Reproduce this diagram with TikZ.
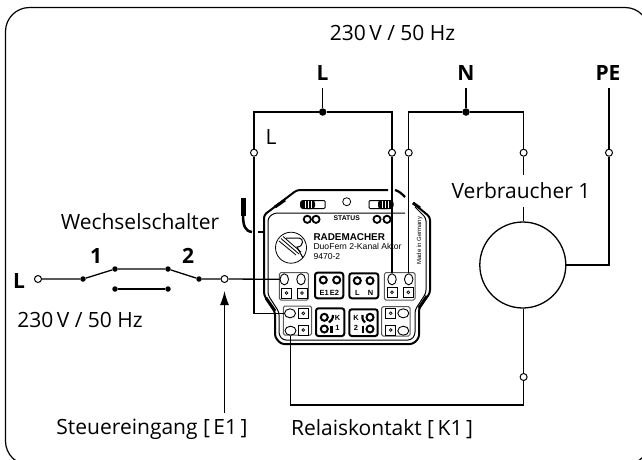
\documentclass[tikz,border=0pt]{standalone}
\usepackage{fontspec}
\setmainfont{Open Sans}
\newfontfamily\devfont{Liberation Sans}
\usetikzlibrary{arrows.meta,shapes.geometric}
\tikzset{
  wire/.style={line width=1.3pt,draw=black},
  opencirc/.style={circle,draw=black,fill=white,line width=1pt,inner sep=0pt,minimum size=7pt},
  dotnode/.style={circle,fill=black,inner sep=0pt,minimum size=#1},
  lab/.style={font=\fontsize{21}{24}\selectfont,inner sep=0pt,text=black},
  blab/.style={font=\fontsize{21}{24}\selectfont\bfseries,inner sep=0pt},
  graybox/.style={draw=black!65,line width=1pt,rounded corners=1.5pt,fill=white},
  blackbox/.style={draw=black,line width=2pt,rounded corners=2.5pt,fill=white},
  termring/.style={circle,draw=black,line width=2pt,fill=white,inner sep=0pt,minimum size=#1},
  sqt/.style={draw=black,line width=1pt,fill=white,inner sep=0pt,minimum size=10pt},
  devtxt/.style={font=\devfont\bfseries\fontsize{#1}{#1}\selectfont,inner sep=0pt},
  casing/.style={line width=2pt,draw=black,line join=round},
  casingthin/.style={line width=1pt,draw=black,line join=round},
  ovalv/.style={ellipse,draw=black,fill=white,line width=.9pt,inner sep=0pt,minimum width=8.5pt,minimum height=11pt},
  ovalh/.style={ellipse,draw=black,fill=white,line width=.9pt,inner sep=0pt,minimum width=11pt,minimum height=9pt},
}
\newcommand{\sqterm}[2]{\node[sqt] at (#1,#2) {}; \draw[line width=.7pt] (#1,#2) circle (1.4);}
\begin{document}
\begin{tikzpicture}[x=1pt,y=-1pt]
\useasboundingbox (0,0) rectangle (642,459);
\fill[white] (0,0) rectangle (642,459);
\begin{scope}
\clip (0,0) rectangle (642,459);
\draw[line width=1.2pt,rounded corners=24pt] (5.5,7.5) rectangle (649,465);
\end{scope}
% device casing
\draw[casing,rounded corners=3pt] (388,190) -- (297,190) -- (264,215) -- (264,295) -- (275,312) -- (275,337) -- (281,344) -- (413,344) -- (419,338) -- (419,308) -- (430,293) -- (430,217) -- (413,203);
\draw[casingthin,rounded corners=3pt] (405,213) -- (274,213) -- (268,218) -- (268,295) -- (279,312) -- (279,335) -- (283,340) -- (411,340) -- (415,335) -- (415,310) -- (426,293) -- (426,218) -- (415,207);
\draw[line width=3pt] (275,207) -- (285,200);
\draw[line width=3pt] (266,298) -- (275,311);
\draw[line width=3pt] (419,308) -- (427,296);
\draw[line width=2.2pt] (395,190) .. controls (399,191) and (402,194) .. (405,197);
\draw[line width=3pt] (413,203) -- (420,208);
% sliders
\draw[line width=1pt,fill=white,rounded corners=1pt] (306,200.5) rectangle (325,208.5);
\fill[black,rounded corners=3pt] (300,200) rectangle (315,209);
\foreach \q in {305,308,311}{\draw[white,line width=.5pt] (\q,201) -- (\q,208);}
\draw[line width=1pt,fill=white,rounded corners=1pt] (369,200.5) rectangle (388,208.5);
\fill[black,rounded corners=3pt] (378,200) rectangle (393.5,209);
\foreach \q in {382,385,388}{\draw[white,line width=.5pt] (\q,201) -- (\q,208);}
\node[circle,draw=black,line width=.8pt,inner sep=0pt,minimum size=8pt] (statusled) at (346.7,201.7) {};
\foreach \q in {307.3,316,377,387}{\draw[line width=1.8pt] (\q,219.3) circle (3.6);}
\node[devtxt=6.8] (status) at (346.7,218.3) {STATUS};
\node[devtxt=9.9,anchor=west] (brand) at (313.3,236.7) {RADEMACHER};
\node[font=\devfont\fontsize{8.6}{9}\selectfont,inner sep=0pt,anchor=west] (model) at (313.3,246.7) {DuoFern 2-Kanal Aktor};
\node[font=\devfont\fontsize{8.6}{9}\selectfont,inner sep=0pt,anchor=west] (num) at (313.3,256.7) {9470-2};
\node[font=\devfont\fontsize{6}{6}\selectfont,inner sep=0pt,rotate=90] (made) at (419.5,240.5) {Made in Germany};
% logo
\draw[line width=.8pt] (291,247.7) circle (15.5);
\draw[line width=.8pt] (279,241) -- (296,255) (281,238.5) -- (299,254) (283,236.5) -- (301,252);
\draw[line width=1pt] (286,238) -- (299,238) .. controls (304,238) and (304,247) .. (297,247) -- (303,258);
% stub at left
\draw[line width=5pt] (243,198) -- (243,216);
\draw[line width=2.5pt] (243,214) .. controls (243,226) and (245,231) .. (252,232);
\draw[line width=2.5pt] (258,232) -- (265,232);
% terminal blocks
\draw[graybox] (279.3,272.7) rectangle (308.3,300);
\draw[graybox] (384.3,272.7) rectangle (415,300);
\draw[graybox] (283.3,306) rectangle (311.7,335);
\draw[graybox] (381.7,306.7) rectangle (410,336);
\draw[blackbox] (315,272.7) rectangle (343.3,298.3);
\draw[blackbox] (349.3,273.3) rectangle (378.3,298.3);
\draw[blackbox] (316,308.3) rectangle (344.3,336);
\draw[blackbox] (349.3,309.3) rectangle (377.7,336);
\sqterm{286.5}{293}\sqterm{302}{293}
\sqterm{392}{292.3}\sqterm{408.3}{292.3}
\sqterm{303.3}{313.3}\sqterm{303.3}{330}
\sqterm{390.7}{313.3}\sqterm{390.7}{330}
% E1 E2 / L N
\node[termring=7pt] (e1r) at (323.3,280) {};
\node[termring=7pt] (e2r) at (336.7,280) {};
\node[devtxt=7.5] (e1t) at (329.3,292.5) {E1\,E2};
\node[termring=7pt] (lr) at (357.3,280.7) {};
\node[termring=7pt] (nr) at (370,280.7) {};
\node[devtxt=7.5] (lt) at (357.3,292.5) {L};
\node[devtxt=7.5] (nt) at (370.5,292.5) {N};
% K1 / K2
\node[termring=7pt] (k1a) at (324.3,317.3) {};
\node[termring=7pt] (k1b) at (324.3,329) {};
\draw[line width=2.2pt] (333,315) .. controls (333,319) and (331,321) .. (329,322.5);
\draw[line width=2.2pt] (331.5,326) -- (331.5,333);
\node[devtxt=7.5] (k1k) at (337.5,318) {K};
\node[devtxt=7.5] (k1n) at (337.5,327.5) {1};
\node[termring=7pt] (k2a) at (370,317.3) {};
\node[termring=7pt] (k2b) at (370,329) {};
\draw[line width=2.2pt] (362.5,315) .. controls (362,319) and (363,321) .. (365,322.5);
\draw[line width=2.2pt] (362.8,326) -- (362.8,333);
\node[devtxt=7.5] (k2k) at (356,318) {K};
\node[devtxt=7.5] (k2n) at (356,327.5) {2};
% open terminal ellipses
\node[ovalh] (t6) at (403.3,313.3) {};
\node[ovalh] (t7) at (403.3,330.7) {};
\node[ovalv] (t2) at (301,279.3) {};
% points of the wiring
\node[dotnode=7.5pt] (jL) at (322.7,112) {};
\node[dotnode=7.5pt] (jN) at (466,112) {};
\coordinate (tL) at (322.7,88);
\coordinate (tN) at (466,88);
\coordinate (tPE) at (609,88);
\coordinate (gapA) at (523.6,175);
\coordinate (gapB) at (523.6,207);
\coordinate (bR) at (523.6,405);
\coordinate (bL) at (290.5,405);
\node[opencirc] (o1) at (254,152.7) {};
\node[opencirc] (o2) at (392,152.7) {};
\node[opencirc] (o3) at (408.7,152.7) {};
\node[opencirc] (o4) at (523.6,152.7) {};
\node[opencirc] (o5) at (609,152.7) {};
\node[opencirc] (o6) at (523.6,377) {};
\node[circle,draw=black,line width=1.3pt,inner sep=0pt,minimum size=86pt] (load) at (522.8,265) {};
\node[ovalv] (t1) at (284.3,279.3) {};
\node[ovalv] (t3) at (392,279.3) {};
\node[ovalv] (t4) at (408.7,279.3) {};
\node[ovalh] (t5) at (290,313.3) {};
\node[ovalh] (t8) at (290.5,330.7) {};
% switch
\node[opencirc] (oIn) at (38,279) {};
\node[opencirc] (oOut) at (224.5,279) {};
\node[dotnode=5.5pt] (s1) at (83,279) {};
\node[dotnode=5.5pt] (s2) at (115,269) {};
\node[dotnode=5.5pt] (s3) at (168,269) {};
\node[dotnode=5.5pt] (s4) at (199,279) {};
\node[dotnode=5.5pt] (s5) at (115,289) {};
\node[dotnode=5.5pt] (s6) at (168,289) {};
\coordinate (arrowBase) at (224.5,413);
\coordinate (arrowTip) at (224.5,291);
% wires
\draw[wire] (tL) -- (jL);
\draw[wire] (tN) -- (jN);
\draw[wire] (o1) |- (jL) -| (o2);
\draw[wire] (o3) |- (jN) -| (o4);
\draw[wire] (o1) |- (t5.west);
\draw[wire] (o2) -- (t3);
\draw[wire] (o3) -- (t4);
\draw[wire] (o4) -- (gapA);
\draw[wire] (gapB) -- (load.north -| gapB);
\draw[wire] (tPE) -- (o5);
\draw[wire] (o5) |- (load.east);
\draw[wire] (load.south -| o6) -- (o6);
\draw[wire] (o6) -- (bR) -- (bL) -- (t8);
\draw[wire] (oIn) -- (s1) -- (s2) -- (s3) -- (s4) -- (oOut);
\draw[wire] (oOut) -- (t1);
\draw[wire] (s5) -- (s6);
\draw[wire,-{Latex[length=14pt,width=9pt]}] (arrowBase) -- (arrowTip);
% labels
\node[lab] (l230a) at (392.5,33) {230\,V / 50 Hz};
\node[blab] (lL) at (322.5,73) {L};
\node[blab] (lN) at (466,73) {N};
\node[blab] (lPE) at (608,73) {PE};
\node[lab] (lLs) at (271,137) {L};
\node[lab] (lV) at (521,191) {Verbraucher 1};
\node[lab] (lW) at (140,222) {Wechselschalter};
\node[blab] (l1) at (96,256) {1};
\node[blab] (l2) at (188,256) {2};
\node[blab] (lLi) at (19,281) {L};
\node[lab] (l230b) at (80,320) {230\,V / 50 Hz};
\node[lab] (lS) at (152,429) {Steuereingang [\,E1\,]};
\node[lab] (lR) at (382,429) {Relaiskontakt [\,K1\,]};
\end{tikzpicture}
\end{document}
